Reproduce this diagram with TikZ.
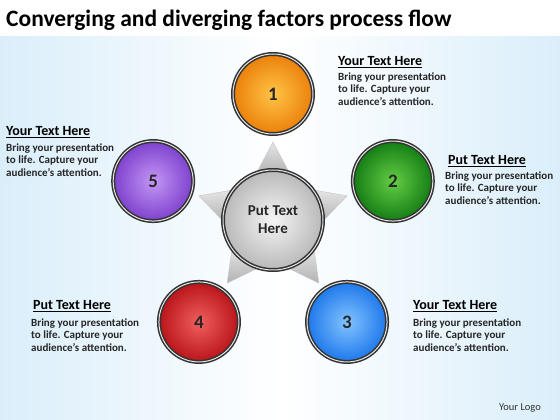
\documentclass[tikz,border=0pt]{standalone}
\usepackage{fontspec}
\setmainfont{Carlito}
\usetikzlibrary{calc}
\definecolor{oin}{RGB}{255,196,70}
\definecolor{oout}{RGB}{235,128,10}
\definecolor{gin}{RGB}{100,205,70}
\definecolor{gout}{RGB}{20,125,20}
\definecolor{bin}{RGB}{130,195,255}
\definecolor{bout}{RGB}{30,120,235}
\definecolor{rin}{RGB}{240,95,95}
\definecolor{rout}{RGB}{185,20,25}
\definecolor{pin}{RGB}{195,150,245}
\definecolor{pout}{RGB}{125,65,205}
\definecolor{cin}{RGB}{245,245,245}
\definecolor{cout}{RGB}{185,185,185}
\definecolor{bgblue}{RGB}{218,238,250}
\begin{document}
\begin{tikzpicture}[x=1pt,y=1pt,
  ball/.style 2 args={circle, minimum size=80pt, inner sep=0pt, shading=radial,
    inner color=#1, outer color=#2, draw=gray!40!black, line width=4pt,
    postaction={draw=gray!20, line width=1pt},
    font=\bfseries\fontsize{19}{19}\selectfont, text=black!85},
  tri/.style={shading=axis, top color=gray!20, bottom color=gray!60, draw=gray!45, line width=0.4pt},
  head/.style={anchor=base west, inner sep=0pt, font=\bfseries\fontsize{14}{16}\selectfont, text=black},
  body/.style={anchor=north west, inner sep=0pt, align=left, font=\bfseries\fontsize{11}{12.5}\selectfont, text=black!85}]
\useasboundingbox (0,0) rectangle (560,420);
\fill[white] (0,0) rectangle (560,420);
\shade[left color=bgblue, right color=bgblue, middle color=white] (0,0) rectangle (560,383);
\node[anchor=base west, inner sep=0pt, font=\bfseries\fontsize{23.5}{26}\selectfont] (title) at (6,393) {Converging and diverging factors process flow};
\coordinate (c) at (273,200);
\foreach \a in {90,18,-54,-126,162}
  \path[tri] ($(c)+(\a:78)$) -- ($(c)+(\a:46)+(\a+90:17)$) -- ($(c)+(\a:46)+(\a-90:17)$) -- cycle;
\node[ball={cin}{cout}, minimum size=100pt, font=\bfseries\fontsize{15}{18}\selectfont, align=center] (ctr) at (c) {Put Text\\Here};
\node[ball={oin}{oout}] (n1) at ($(c)+(90:126)$) {1};
\node[ball={gin}{gout}] (n2) at ($(c)+(18:126)$) {2};
\node[ball={bin}{bout}] (n3) at ($(c)+(-54:126)$) {3};
\node[ball={rin}{rout}] (n4) at ($(c)+(-126:126)$) {4};
\node[ball={pin}{pout}] (n5) at ($(c)+(162:126)$) {5};
\node[head] (h1) at (338,354) {\underline{Your Text Here}};
\node[body] (b1) at (338,347.5) {Bring your presentation\\to life. Capture your\\audience’s attention.};
\node[head] (h2) at (448,255) {\underline{Put Text Here}};
\node[body] (b2) at (445,248.5) {Bring your presentation\\to life. Capture your\\audience’s attention.};
\node[head] (h3) at (413,110) {\underline{Your Text Here}};
\node[body] (b3) at (413,101.5) {Bring your presentation\\to life. Capture your\\audience’s attention.};
\node[head] (h4) at (33,110) {\underline{Put Text Here}};
\node[body] (b4) at (31,101.5) {Bring your presentation\\to life. Capture your\\audience’s attention.};
\node[head] (h5) at (6,284) {\underline{Your Text Here}};
\node[body] (b5) at (6,276.5) {Bring your presentation\\to life. Capture your\\audience’s attention.};
\node[font=\fontsize{10.5}{12}\selectfont, text=black!80, inner sep=0pt] (logo) at (520,12) {Your Logo};
\end{tikzpicture}
\end{document}
